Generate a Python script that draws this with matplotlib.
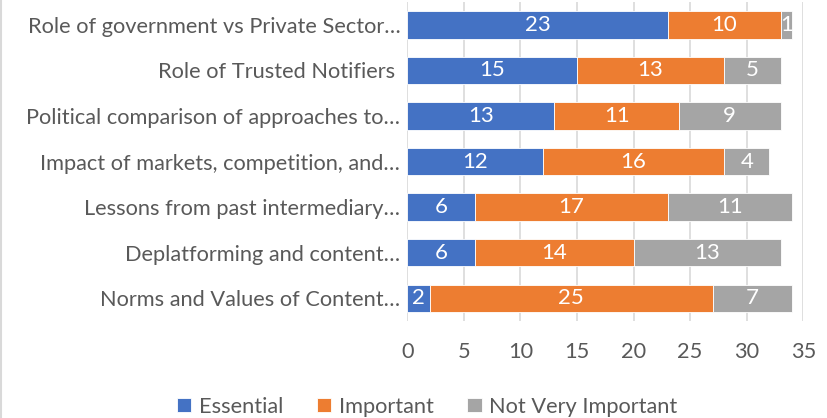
import matplotlib.pyplot as plt
from matplotlib.lines import Line2D

categories = [
    "Norms and Values of Content\u2026",
    "Deplatforming and content\u2026",
    "Lessons from past intermediary\u2026",
    "Impact of markets, competition, and\u2026",
    "Political comparison of approaches to\u2026",
    "Role of Trusted Notifiers ",
    "Role of government vs Private Sector\u2026",
]
essential = [2, 6, 6, 12, 13, 15, 23]
important = [25, 14, 17, 16, 11, 13, 10]
not_very = [7, 13, 11, 4, 9, 5, 1]
series_names = ["Essential", "Important", "Not Very Important"]
colors = ["#4472C4", "#ED7D31", "#A5A5A5"]
ticks = [0, 5, 10, 15, 20, 25, 30, 35]

plt.rcParams["font.family"] = ["Lato", "DejaVu Sans"]
text_color = "#595959"
fs = 15.7

fig = plt.figure(figsize=(8.28, 4.18), dpi=100)
ax = fig.add_axes([0.4919, 0.232, 0.4783, 0.763])

y = range(len(categories))
left = [0] * len(categories)
for vals, name, c in zip([essential, important, not_very], series_names, colors):
    bars = ax.barh(y, vals, left=left, height=0.6, color=c, label=name,
                   edgecolor="white", linewidth=0.6, zorder=3)
    ax.bar_label(bars, labels=[str(v) for v in vals], label_type="center",
                 color="white", fontsize=16)
    left = [a + b for a, b in zip(left, vals)]

ax.set_xlim(0, 35)
ax.set_ylim(-0.5, len(categories) - 0.5)
ax.set_xticks(ticks)
ax.set_yticks(list(y))
ax.set_yticklabels(categories)
ax.grid(axis="x", color="#D9D9D9", linewidth=1.2, zorder=0)
for s in ax.spines.values():
    s.set_visible(False)
ax.tick_params(axis="both", length=0, labelsize=fs, colors=text_color)
ax.tick_params(axis="y", pad=5)
ax.tick_params(axis="x", pad=15)

# legend sits a bit right of the figure centre, like in Excel
ax.legend(loc="lower center", bbox_to_anchor=(0.516, -0.018), bbox_transform=fig.transFigure,
          ncol=3, frameon=False, fontsize=fs, labelcolor=text_color,
          handlelength=0.65, handleheight=0.65, handletextpad=0.35, columnspacing=1.55,
          borderaxespad=0.0)

fig.add_artist(Line2D([0.001, 0.001], [0, 1], transform=fig.transFigure,
                      color="#D9D9D9", linewidth=1.5))

fig.savefig("out.png", dpi=100)
